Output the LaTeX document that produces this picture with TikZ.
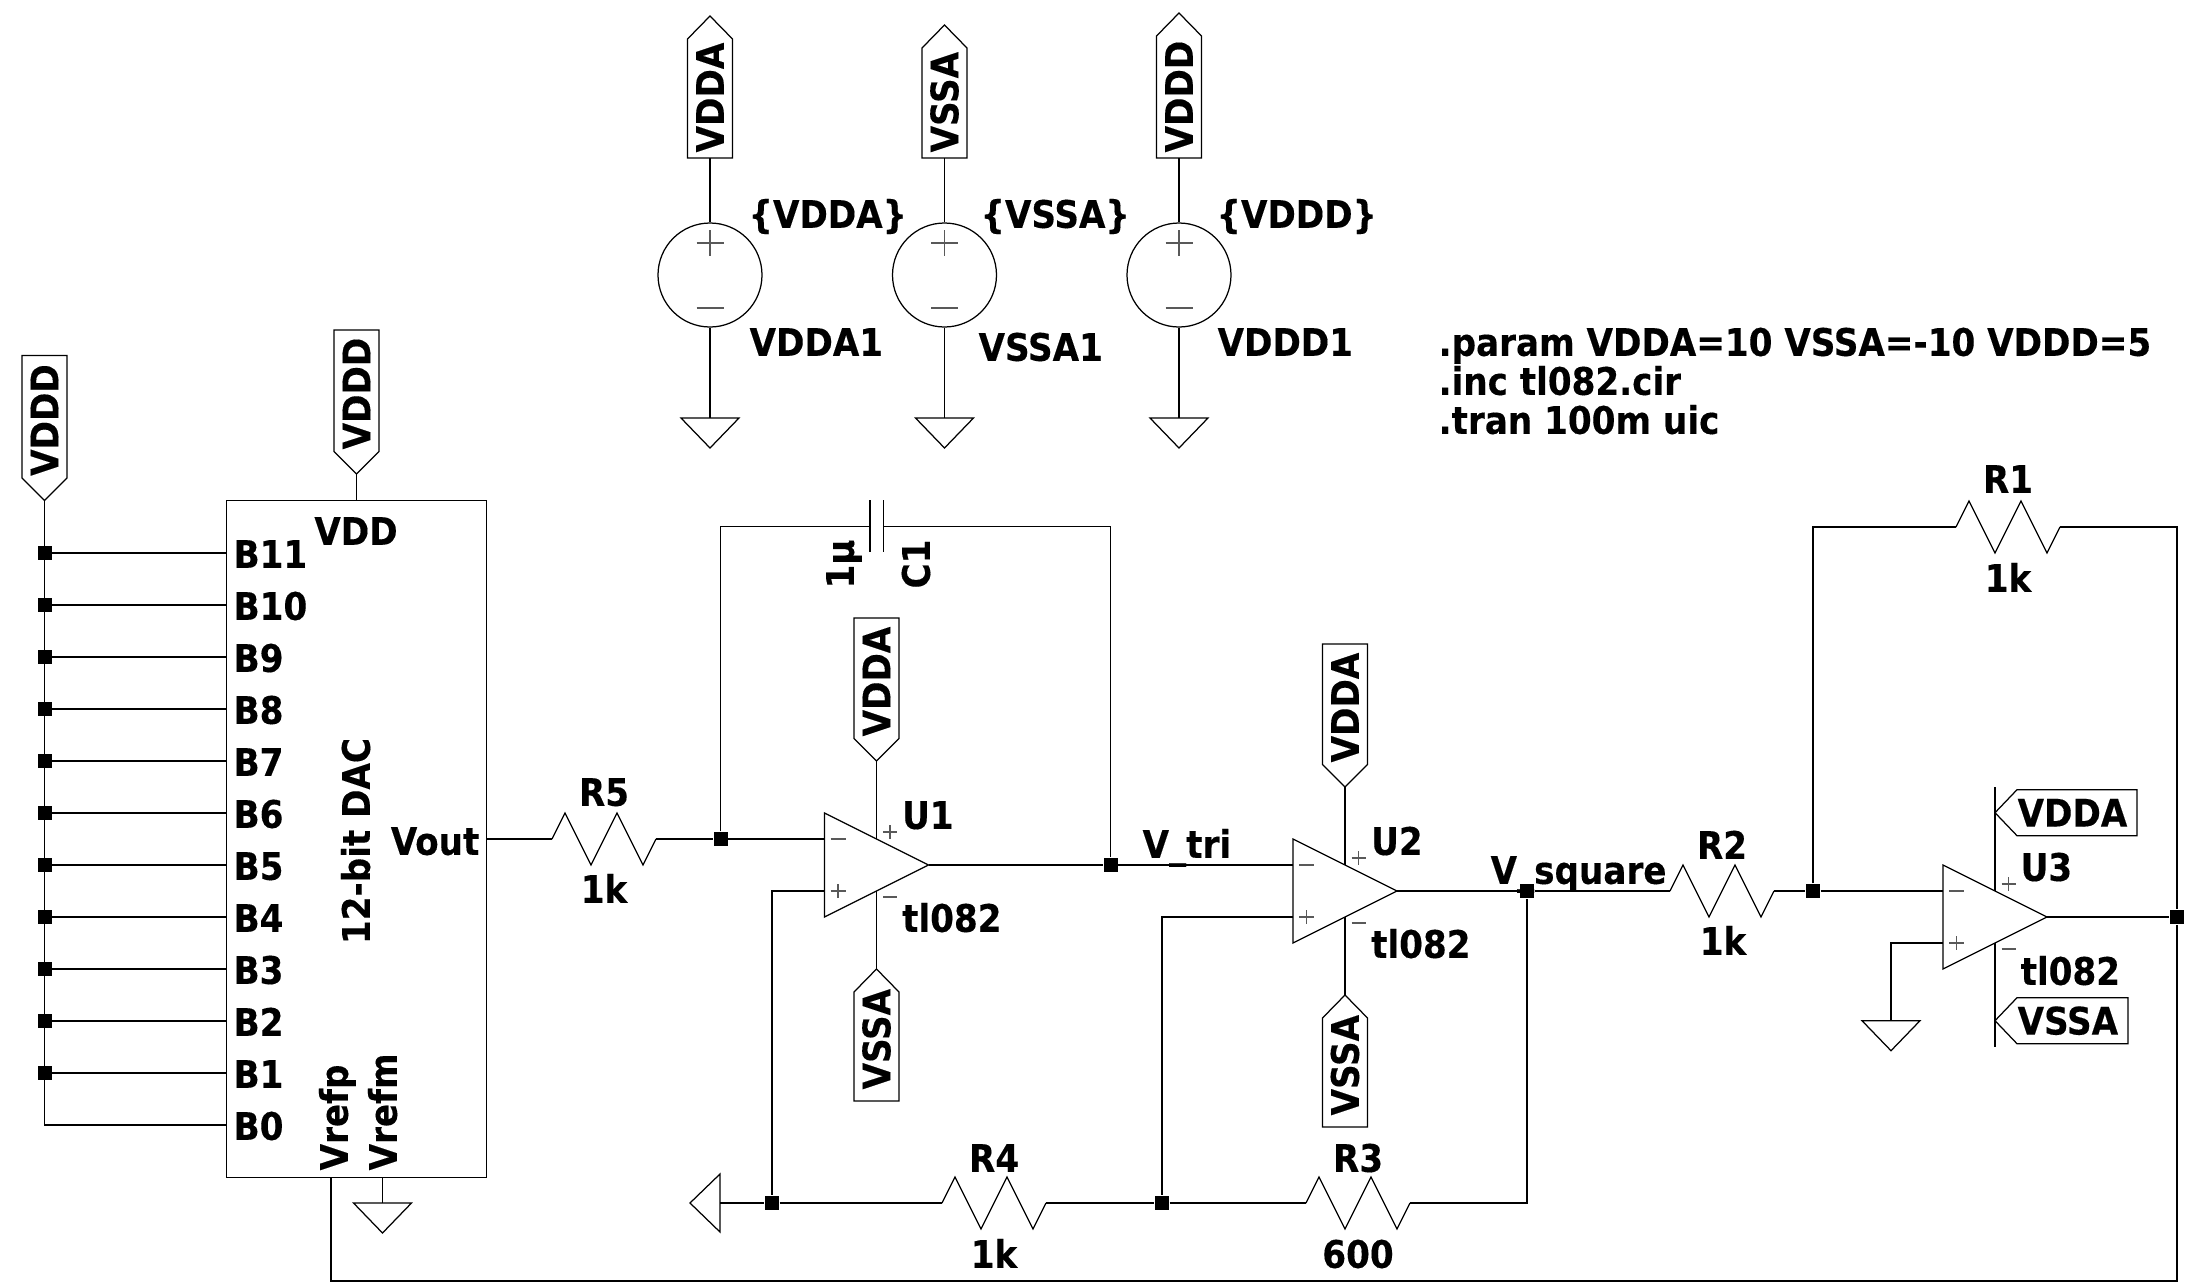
\documentclass[tikz,border=0pt]{standalone}
\usepackage{fontspec}
\newfontfamily\schfont[FakeBold=0.3]{DejaVu Sans Condensed Bold}
\tikzset{
 lbl/.style={font=\schfont\fontsize{19}{20}\selectfont,inner sep=0pt,text height=13.85pt,text depth=0pt},
 dot/.style={rectangle,fill=black,minimum size=7pt,inner sep=0pt},
 sgn/.style={draw=black!65},
 pics/res/.style={code={
  \draw (0,0) coordinate (-l) -- (13,-26) -- (39,26) -- (65,-26) -- (91,26) -- (104,0) coordinate (-r);
 }},
 pics/gnd/.style={code={
  \coordinate (-t) at (0,0);
  \draw (-29,0) -- (29,0) -- (0,30) -- cycle;
 }},
 pics/opamp/.style={code={
  \draw (0,-52) -- (0,52) -- (104,0) coordinate (-out) -- cycle;
  \coordinate (-in) at (0,-26);
  \coordinate (-ip) at (0,26);
  \coordinate (-vp) at (52,-26);
  \coordinate (-vm) at (52,26);
  \draw[sgn] (6,-26) -- (21,-26) (6,26) -- (21,26) (13.5,19) -- (13.5,33);
  \draw[sgn] (58.5,-33) -- (72.5,-33) (65.5,-40) -- (65.5,-26) (58.5,32) -- (72.5,32);
 }},
 pics/flagup/.style n args={3}{code={
  \coordinate (-o) at (0,0);
  \draw (-22.5,0) -- (22.5,0) -- (22.5,23-#2) -- (0,-#2) coordinate (-tip) -- (-22.5,23-#2) -- cycle;
  \node[lbl,rotate=90,anchor=west] (-t) at (0,-#3) {#1};
 }},
 pics/flagdn/.style 2 args={code={
  \coordinate (-tip) at (0,0);
  \draw (0,0) -- (22.5,-22.5) -- (22.5,-#2) -- (-22.5,-#2) -- (-22.5,-22.5) -- cycle;
  \node[lbl,rotate=90,anchor=west] (-t) at (0,-24) {#1};
 }},
 pics/flagrt/.style 2 args={code={
  \coordinate (-tip) at (0,0);
  \draw (0,0) -- (22,-23) -- (#2,-23) -- (#2,23) -- (22,23) -- cycle;
  \node[lbl,anchor=west] (-t) at (22,0) {#1};
 }},
}
\begin{document}
\begin{tikzpicture}[x=0.5pt,y=-0.5pt,line width=0.62pt]
 \useasboundingbox (0,0) rectangle (2192,1286);

 \node[draw,minimum width=130pt,minimum height=338.25pt,inner sep=0pt] (dac) at (356.5,839) {};
 \pic (fBus) at (44.5,500.5) {flagdn={VDDD}{145}};
 \pic (fDac) at (356.5,474) {flagdn={VDDD}{144}};
 \draw (fDac-tip) -- (dac.north);
 \node[lbl] (tVdd) at (356,531) {VDD};
 \node[lbl,anchor=east] (tVout) at (480,841) {Vout};
 \node[lbl,rotate=90] (tDac) at (356,841) {12-bit DAC};
 \node[lbl,rotate=90,anchor=west] (tRefp) at (334,1171) {Vrefp};
 \node[lbl,rotate=90,anchor=west] (tRefm) at (383,1171) {Vrefm};
 \foreach \n/\y in {11/553,10/605,9/657,8/709,7/761,6/813,5/865,4/917,3/969,2/1021,1/1073}{
  \node[dot] (b\n) at (44.5,\y) {};
  \draw (b\n) -- (b\n -| dac.west);
  \node[lbl,anchor=west] (tB\n) at (233,\y+1) {B\n};
 }
 \coordinate (b0) at (44.5,1125);
 \draw (fBus-tip) -- (b0) -- (b0 -| dac.west);
 \node[lbl,anchor=west] (tB0) at (233,1126) {B0};
 \coordinate (vrefp) at (331,1177);
 \coordinate (vrefm) at (382.5,1177);
 \pic (gDac) at (382.5,1203) {gnd};
 \draw (vrefm) -- (gDac-t);

 \pic (fA) at (710,158) {flagup={VDDA}{142}{5}};
 \pic (fS) at (944.5,158) {flagup={VSSA}{133}{5}};
 \pic (fD) at (1179,158) {flagup={VDDD}{145}{5}};
 \foreach \s/\x/\f in {sA/710/fA,sS/944.5/fS,sD/1179/fD}{
  \node[draw,circle,minimum size=52pt,inner sep=0pt] (\s) at (\x,275) {};
  \pic (g\s) at (\x,418) {gnd};
  \draw (\f-o) -- (\s);
  \draw (\s) -- (g\s-t);
  \draw[sgn] (\x-13.5,243) -- (\x+13.5,243) (\x,230) -- (\x,256) (\x-13.5,308) -- (\x+13.5,308);
 }
 \node[lbl,anchor=west] (tA) at (748,214) {\{VDDA\}};
 \node[lbl,anchor=west] (tS) at (980,214) {\{VSSA\}};
 \node[lbl,anchor=west] (tD) at (1216,214) {\{VDDD\}};
 \node[lbl,anchor=west] (tA1) at (749,342) {VDDA1};
 \node[lbl,anchor=west] (tS1) at (978,347) {VSSA1};
 \node[lbl,anchor=west] (tD1) at (1217,342) {VDDD1};

 \node[lbl,anchor=west] (tP1) at (1438,342) {.param VDDA=10 VSSA=-10 VDDD=5};
 \node[lbl,anchor=west] (tP2) at (1438,381) {.inc tl082.cir};
 \node[lbl,anchor=west] (tP3) at (1438,420) {.tran 100m uic};

 \pic (R5) at (552,839) {res};
 \pic (R4) at (942,1203) {res};
 \pic (R3) at (1306,1203) {res};
 \pic (R2) at (1670,891) {res};
 \pic (R1) at (1956,527) {res};
 \node[lbl] (tR5) at (604,792) {R5};
 \node[lbl] (vR5) at (604,889) {1k};
 \node[lbl] (tR4) at (994,1158) {R4};
 \node[lbl] (vR4) at (994,1254) {1k};
 \node[lbl] (tR3) at (1358,1158) {R3};
 \node[lbl] (vR3) at (1358,1254) {600};
 \node[lbl] (tR2) at (1722,845) {R2};
 \node[lbl] (vR2) at (1723,941) {1k};
 \node[lbl] (tR1) at (2008,479) {R1};
 \node[lbl] (vR1) at (2008,578) {1k};

 \pic (U1) at (824.5,865) {opamp};
 \pic (U2) at (1293,891) {opamp};
 \pic (U3) at (1943,917) {opamp};
 \node[lbl,anchor=west] (tU1) at (901.5,815) {U1};
 \node[lbl,anchor=west] (mU1) at (901.5,918) {tl082};
 \node[lbl,anchor=west] (tU2) at (1370.5,841) {U2};
 \node[lbl,anchor=west] (mU2) at (1370.5,944) {tl082};
 \node[lbl,anchor=west] (tU3) at (2020,867) {U3};
 \node[lbl,anchor=west] (mU3) at (2020,971) {tl082};

 \pic (fU1p) at (876.5,761) {flagdn={VDDA}{143}};
 \pic (fU1m) at (876.5,1101) {flagup={VSSA}{132}{11}};
 \pic (fU2p) at (1345,787) {flagdn={VDDA}{143}};
 \pic (fU2m) at (1345,1127) {flagup={VSSA}{132}{11}};
 \draw (fU1p-tip) -- (U1-vp) (U1-vm) -- (fU1m-tip);
 \draw (fU2p-tip) -- (U2-vp) (U2-vm) -- (fU2m-tip);
 \pic (fU3p) at (1995,812.7) {flagrt={VDDA}{142}};
 \pic (fU3m) at (1995,1020.7) {flagrt={VSSA}{133}};
 \coordinate (barT) at (1995,787);
 \coordinate (barB) at (1995,1047);
 \draw (barT) -- (U3-vp) (U3-vm) -- (barB);

 \node[dot] (nA) at (720.5,839) {};
 \node[dot] (nTri) at (1110.5,865) {};
 \node[dot] (nGnd) at (772,1203) {};
 \node[dot] (nFb) at (1162,1203) {};
 \node[dot] (nSq) at (1527,891) {};
 \node[dot] (nSum) at (1813,891) {};
 \node[dot] (nOut) at (2177,917) {};
 \coordinate (cBot) at (2177,1281);

 \draw (dac.east) -- (R5-l);
 \draw (R5-r) -- (nA) -- (U1-in);
 \coordinate (C1l) at (870,526.5);
 \coordinate (C1r) at (883.5,526.5);
 \draw (nA) |- (C1l);
 \draw (C1r) -| (nTri);
 \draw (870,500) -- (870,552) (883.5,500) -- (883.5,552);
 \node[lbl,rotate=90] (vC1) at (840,564) {1µ};
 \node[lbl,rotate=90] (tC1) at (916,564) {C1};
 \draw (U1-out) -- (nTri) -- (U2-in);
 \node[lbl,anchor=west] (tTri) at (1142,844) {V\_tri};
 \draw (U2-out) -- (nSq) -- (R2-l);
 \node[lbl,anchor=west] (tSq) at (1490,870) {V\_square};
 \draw (R2-r) -- (nSum) -- (U3-in);
 \draw (U3-out) -- (nOut);
 \draw (nSum) |- (R1-l);
 \draw (R1-r) -| (nOut);
 \draw (vrefp) |- (cBot) -- (nOut);

 \pic[rotate=-90] (gL) at (720,1203) {gnd};
 \draw (gL-t) -- (nGnd) -- (R4-l);
 \draw (U1-ip) -| (nGnd);
 \draw (R4-r) -- (nFb) -- (R3-l);
 \draw (U2-ip) -| (nFb);
 \draw (R3-r) -| (nSq);

 \pic (gU3) at (1891,1020.7) {gnd};
 \draw (U3-ip) -| (gU3-t);
\end{tikzpicture}
\end{document}
